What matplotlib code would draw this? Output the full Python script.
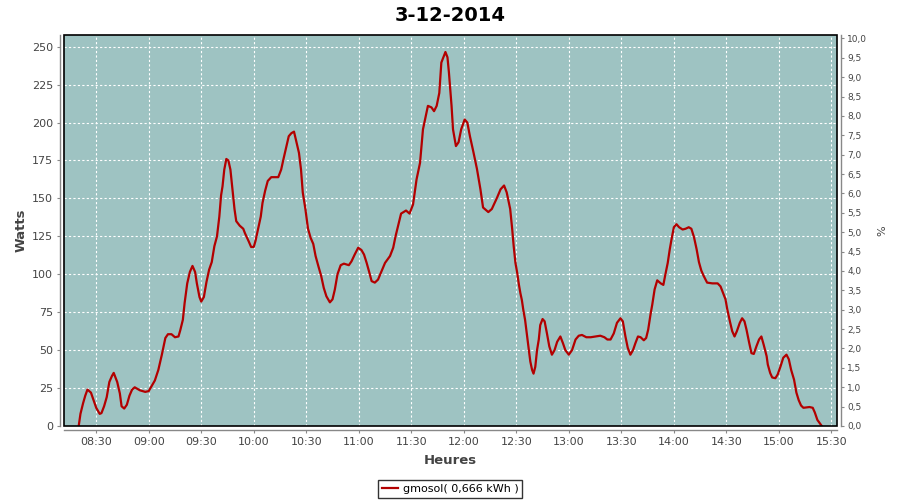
import matplotlib
matplotlib.use("Agg")
import matplotlib.pyplot as plt
import matplotlib.dates as mdates
from matplotlib.patches import Rectangle
from matplotlib.ticker import MultipleLocator, FuncFormatter
import pandas as pd

day = "2014-12-03"
title = "3-12-2014"
series_name = "gmosol( 0,666 kWh )"

times = [
    "08:20:00", "08:21:00", "08:22:30", "08:23:45", "08:25:00", "08:27:00", "08:28:30",
    "08:30:00", "08:32:00", "08:33:00", "08:34:30", "08:36:00", "08:37:30", "08:39:00",
    "08:40:00", "08:42:00", "08:43:30", "08:44:30", "08:46:00", "08:47:30", "08:49:00",
    "08:50:30", "08:52:00", "08:55:00", "08:58:00", "09:00:00", "09:01:30", "09:03:30",
    "09:05:30", "09:07:30", "09:09:30", "09:11:00", "09:13:00", "09:15:00", "09:17:00",
    "09:18:00", "09:19:30", "09:20:30", "09:22:00", "09:23:30", "09:25:00", "09:26:30",
    "09:27:30", "09:29:00", "09:30:00", "09:31:30", "09:33:00", "09:34:30", "09:36:00",
    "09:37:30", "09:39:00", "09:40:20", "09:41:20", "09:42:10", "09:43:10", "09:44:20",
    "09:45:30", "09:46:40", "09:47:50", "09:49:00", "09:50:00", "09:52:00", "09:54:00",
    "09:55:00", "09:57:00", "09:58:30", "10:00:00", "10:01:00", "10:02:30", "10:04:00",
    "10:05:00", "10:06:30", "10:08:00", "10:10:00", "10:12:00", "10:14:00", "10:15:40",
    "10:17:00", "10:18:30", "10:20:00", "10:21:30", "10:23:00", "10:24:00", "10:25:50",
    "10:27:00", "10:28:00", "10:29:30", "10:31:00", "10:32:30", "10:34:00", "10:35:20",
    "10:37:00", "10:38:30", "10:40:00", "10:41:30", "10:43:30", "10:45:00", "10:46:20",
    "10:47:50", "10:49:40", "10:51:30", "10:54:20", "10:55:50", "10:57:40", "10:59:40",
    "11:01:30", "11:03:00", "11:04:30", "11:05:50", "11:07:20", "11:09:10", "11:11:00",
    "11:13:00", "11:15:00", "11:17:50", "11:19:40", "11:21:00", "11:22:30", "11:24:10",
    "11:27:00", "11:29:00", "11:31:00", "11:33:00", "11:35:00", "11:36:40", "11:39:30",
    "11:41:30", "11:43:00", "11:44:30", "11:46:00", "11:47:10", "11:49:30", "11:50:40",
    "11:51:30", "11:53:00", "11:53:50", "11:55:30", "11:57:00", "11:58:30", "12:00:30",
    "12:02:00", "12:03:30", "12:05:30", "12:07:30", "12:09:30", "12:11:00", "12:14:00",
    "12:16:00", "12:19:00", "12:21:00", "12:23:00", "12:24:30", "12:26:30", "12:27:40",
    "12:28:30", "12:29:30", "12:30:30", "12:31:30", "12:32:20", "12:33:10", "12:34:00",
    "12:35:00", "12:36:10", "12:37:10", "12:38:00", "12:39:00", "12:39:50", "12:40:50",
    "12:41:50", "12:42:50", "12:43:40", "12:45:00", "12:46:10", "12:47:30", "12:48:50",
    "12:50:20", "12:51:50", "12:53:20", "12:55:10", "12:56:40", "12:58:00", "13:00:00",
    "13:01:50", "13:03:50", "13:05:40", "13:07:30", "13:10:00", "13:12:30", "13:15:10",
    "13:18:00", "13:20:20", "13:22:00", "13:23:50", "13:25:40", "13:27:30", "13:29:30",
    "13:30:50", "13:32:20", "13:33:40", "13:35:10", "13:36:40", "13:38:00", "13:39:30",
    "13:41:00", "13:42:50", "13:44:10", "13:45:20", "13:46:40", "13:47:40", "13:49:00",
    "13:50:30", "13:52:30", "13:54:00", "13:55:00", "13:56:30", "13:57:40", "13:58:40",
    "14:00:00", "14:01:30", "14:03:00", "14:05:00", "14:06:40", "14:08:30", "14:10:00",
    "14:11:30", "14:13:00", "14:14:20", "14:15:40", "14:17:00", "14:19:00", "14:22:00",
    "14:25:00", "14:26:40", "14:28:00", "14:29:30", "14:30:30", "14:32:00", "14:33:20",
    "14:34:40", "14:36:00", "14:37:40", "14:39:00", "14:40:20", "14:41:30", "14:43:00",
    "14:44:20", "14:45:40", "14:47:10", "14:48:40", "14:50:00", "14:51:20", "14:53:00",
    "14:53:40", "14:55:00", "14:56:10", "14:58:00", "14:59:20", "15:01:00", "15:02:30",
    "15:04:20", "15:05:40", "15:07:00", "15:08:40", "15:10:00", "15:11:20", "15:12:40",
    "15:14:00", "15:17:30", "15:19:20", "15:20:30", "15:22:00", "15:24:30",
]

watts = [
    0, 8, 15, 20, 24, 22, 17,
    12, 8, 8.5, 13, 19, 29, 33,
    35, 29, 21.5, 13, 11.5, 14, 20,
    24, 25.5, 23.5, 22.5, 23, 26, 30,
    37, 47, 58, 60.5, 60.5, 58.5, 59,
    63, 70, 81, 94, 101.5, 105.5, 101.5,
    94, 85, 82, 85, 95, 103, 108,
    118.5, 125, 138, 152, 158, 169, 176,
    175, 169, 156, 143, 135, 132, 130,
    127, 122, 118, 118, 122, 130, 138,
    147, 155, 161.5, 164, 164, 164, 169,
    176, 183.5, 191, 193, 194, 189, 180,
    169, 154, 143, 130, 124, 120, 112,
    105, 99, 91, 85.5, 81.5, 83.5, 90,
    100, 106, 107, 106, 108.5, 113, 117.5,
    116, 113, 107.5, 102, 95.5, 94.5, 96.5,
    102, 107.5, 112, 117.5, 125, 132, 140,
    142, 140, 146, 162.5, 173.5, 195.5, 211,
    210, 207.5, 211, 219.5, 239.5, 246.5, 243,
    233, 211, 195.5, 184.5, 187, 195.5, 202,
    200, 191, 180.5, 169.5, 156, 144, 141,
    143, 150.5, 156, 158.5, 154, 143, 129.5,
    118.5, 107.5, 101, 93, 87.5, 83, 76.5,
    70, 59, 50, 42.5, 37, 34.5, 39,
    50, 57, 66.5, 70.5, 69, 61, 52.5,
    47, 50, 55.5, 59, 54.5, 50, 47,
    50, 57, 59.5, 60, 58.5, 58.5, 59,
    59.5, 58.5, 57, 57, 61, 68, 71,
    69, 59, 51.5, 47, 50, 54.5, 59,
    58.5, 56.5, 58, 63.5, 73.5, 80, 90,
    96, 94, 93, 99, 107.5, 116.5, 123,
    131, 133, 131, 129.5, 130, 131, 130,
    124.5, 116.5, 108, 102.5, 99, 94.5, 94,
    94, 92, 88, 83.5, 77, 69, 62.5,
    59, 62.5, 68, 71, 69, 63.5, 55,
    48, 47.5, 52.5, 57, 59, 53.5, 46,
    40.5, 35, 32, 31.5, 34, 39.5, 45,
    47, 44, 37, 30.5, 22, 17, 13.5,
    12, 12.5, 12, 9, 4, 0,
]

x = pd.to_datetime([day + " " + t for t in times])

bg = "#9ec3c2"
txt = "#444444"
axc = "#888888"

fig = plt.figure(figsize=(9, 5), dpi=100)
ax = fig.add_axes([64 / 900, 74 / 500, 773 / 900, 391 / 500])
ax.set_facecolor(bg)

line, = ax.plot(x, watts, color="#b30000", linewidth=1.6, label=series_name, zorder=3)

ax.set_xlim(pd.Timestamp(day + " 08:11:36"), pd.Timestamp(day + " 15:33:12"))
ax.set_ylim(0, 257.7)
ax.yaxis.set_major_locator(MultipleLocator(25))
ax.xaxis.set_major_locator(mdates.MinuteLocator(byminute=[0, 30]))
ax.xaxis.set_major_formatter(mdates.DateFormatter("%H:%M"))

ax.grid(True, color="white", linestyle=(0, (2, 2)), linewidth=0.8)
ax.set_axisbelow(True)

ax2 = ax.twinx()
ax2.set_ylim(0, 10.09)
ax2.yaxis.set_major_locator(MultipleLocator(0.5))
ax2.yaxis.set_major_formatter(FuncFormatter(lambda v, p: ("%.1f" % v).replace(".", ",")))

for a in (ax, ax2):
    for s in a.spines.values():
        s.set_visible(False)
ax.spines["left"].set_visible(True)
ax.spines["bottom"].set_visible(True)
ax2.spines["right"].set_visible(True)
for s in (ax.spines["left"], ax.spines["bottom"], ax2.spines["right"]):
    s.set_position(("outward", 3))
    s.set_color(axc)
    s.set_linewidth(1.0)

ax.tick_params(axis="both", colors=axc, labelcolor=txt, labelsize=8, length=2.5, width=0.8, pad=2.5)
ax2.tick_params(axis="y", colors=axc, labelcolor=txt, labelsize=6.5, length=2.5, width=0.8, pad=2)

ax2.add_patch(Rectangle((0, 0), 1, 1, transform=ax2.transAxes, fill=False,
                        edgecolor="black", linewidth=1.2, zorder=5, clip_on=False))

ax.set_ylabel("Watts", fontsize=9.5, fontweight="bold", color=txt, labelpad=3)
ax.set_xlabel("Heures", fontsize=9.5, fontweight="bold", color=txt, labelpad=5)
ax2.set_ylabel("%", fontsize=8, color=txt, labelpad=7)

fig.suptitle(title, fontsize=14, fontweight="bold", y=0.988)

fig.legend(handles=[line], loc="lower center", bbox_to_anchor=(0.5, 0.004),
           fontsize=8, frameon=True, fancybox=False, edgecolor="black",
           handlelength=1.5, handletextpad=0.4, borderpad=0.35, borderaxespad=0)
fig.legends[0].get_frame().set_linewidth(1.0)

fig.savefig("out.png", dpi=100)
